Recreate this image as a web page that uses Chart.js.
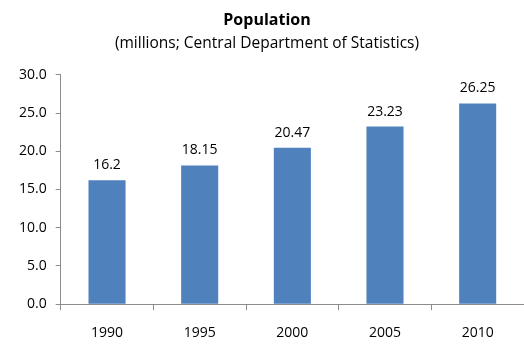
<!DOCTYPE html>
<html lang="en">
<head>
    <meta charset="UTF-8">
    <title>Population</title>
    <script src="https://cdn.jsdelivr.net/npm/chart.js"></script>
    <style>
        body {
            margin: 0;
            padding: 0;
            background: #fff;
        }
        #wrap {
            width: 524px;
            height: 356px;
        }
    </style>
</head>
<body>
    <div id="wrap"><canvas id="popChart"></canvas></div>

    <script>
        const years = ['1990', '1995', '2000', '2005', '2010'];
        const population = [16.2, 18.15, 20.47, 23.23, 26.25];
        const yTicks = [0, 5, 10, 15, 20, 25, 30];

        const fontFamily = "'Open Sans', 'Liberation Sans', sans-serif";

        // labels on top of each bar
        const barLabels = {
            id: 'barLabels',
            afterDatasetsDraw(chart) {
                const ctx = chart.ctx;
                const meta = chart.getDatasetMeta(0);
                ctx.save();
                ctx.font = '14px ' + fontFamily;
                ctx.fillStyle = '#000';
                ctx.textAlign = 'center';
                ctx.textBaseline = 'alphabetic';
                meta.data.forEach((bar, i) => {
                    ctx.fillText(String(population[i]), bar.x, bar.y - 11);
                });
                ctx.restore();
            }
        };

        new Chart(document.getElementById('popChart'), {
            type: 'bar',
            data: {
                labels: years,
                datasets: [{
                    data: population,
                    backgroundColor: '#4F81BD',
                    borderColor: '#4F81BD',
                    borderWidth: 0,
                    barPercentage: 0.4,
                    categoryPercentage: 1
                }]
            },
            options: {
                responsive: true,
                maintainAspectRatio: false,
                animation: false,
                layout: { padding: { left: 10, right: 0, top: 11, bottom: 1 } },
                plugins: {
                    legend: { display: false },
                    tooltip: { enabled: false },
                    title: {
                        display: true,
                        text: 'Population',
                        color: '#000',
                        font: { family: fontFamily, size: 16, weight: 'bold' },
                        padding: { top: 0, bottom: 1 }
                    },
                    subtitle: {
                        display: true,
                        text: '(millions; Central Department of Statistics)',
                        color: '#000',
                        font: { family: fontFamily, size: 15.5 },
                        padding: { top: 3, bottom: 22 }
                    }
                },
                scales: {
                    x: {
                        grid: {
                            offset: true,
                            drawOnChartArea: false,
                            drawTicks: true,
                            tickLength: 6,
                            color: '#8c8c8c'
                        },
                        border: { color: '#8c8c8c' },
                        ticks: {
                            color: '#000',
                            font: { family: fontFamily, size: 14 },
                            padding: 14
                        }
                    },
                    y: {
                        min: 0,
                        max: 30,
                        afterBuildTicks(axis) {
                            axis.ticks = yTicks.map(v => ({ value: v }));
                        },
                        grid: {
                            drawOnChartArea: false,
                            drawTicks: true,
                            tickLength: 5,
                            color: '#8c8c8c'
                        },
                        border: { color: '#8c8c8c' },
                        ticks: {
                            color: '#000',
                            font: { family: fontFamily, size: 14 },
                            padding: 9,
                            callback: v => Number(v).toFixed(1)
                        }
                    }
                }
            },
            plugins: [barLabels]
        });
    </script>
</body>
</html>
